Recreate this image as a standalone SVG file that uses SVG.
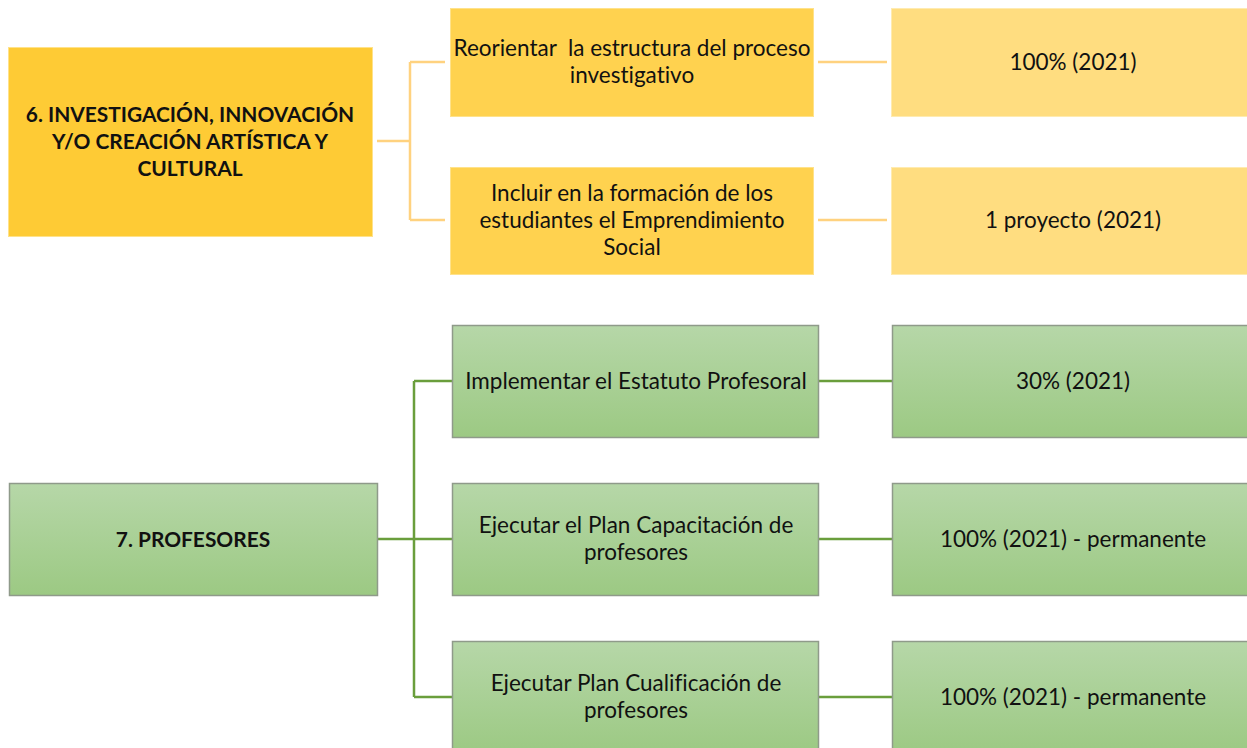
<svg xmlns="http://www.w3.org/2000/svg" width="1247" height="748" viewBox="0 0 1247 748">
<defs>
<linearGradient id="gg" x1="0" y1="0" x2="0" y2="1">
<stop offset="0" stop-color="#B6D7A8"/>
<stop offset="1" stop-color="#9CC983"/>
</linearGradient>
<style>
.t{font-family:Lato,"Liberation Sans",Arial,sans-serif;font-size:22.5px;fill:#111;text-anchor:middle;font-variant-ligatures:none}
.b{font-weight:bold;font-size:20.9px}
.y1{fill:#FECB35;stroke:#FFE28A;stroke-width:1}
.y2{fill:#FFD24F;stroke:#FFE28A;stroke-width:1}
.y3{fill:#FFDD80;stroke:#FFEBB0;stroke-width:1}
.g{fill:url(#gg);stroke:#8F9A8A;stroke-width:1.5}
.cy{stroke:#FFD27F;stroke-width:2.5;fill:none}
.cg{stroke:#6A9E3C;stroke-width:2.5;fill:none}
</style>
</defs>
<rect width="1247" height="748" fill="#fff"/>
<g id="connectors">
<path class="cy" d="M377 141H410M410 62V220M410 62H445M410 220H445M818 62H887M818 220H887"/>
<path class="cg" d="M378 539H452M414 381V697M414 381H452M414 697H452M819 381H892M819 539H892M819 697H892"/>
</g>
<g id="n6"><rect class="y1" x="8.5" y="47.5" width="364" height="189"/>
<text class="t b" x="190" y="122">6. INVESTIGACIÓN, INNOVACIÓN</text>
<text class="t b" x="190" y="149">Y/O CREACIÓN ARTÍSTICA Y</text>
<text class="t b" x="190" y="176">CULTURAL</text></g>
<g id="n6a"><rect class="y2" x="450.5" y="8.5" width="363" height="108"/>
<text class="t" x="632" y="56" xml:space="preserve">Reorientar  la estructura del proceso</text>
<text class="t" x="632" y="83">investigativo</text></g>
<g id="n6b"><rect class="y2" x="450.5" y="167.5" width="363" height="107"/>
<text class="t" x="632" y="201">Incluir en la formación de los</text>
<text class="t" x="632" y="228">estudiantes el Emprendimiento</text>
<text class="t" x="632" y="255">Social</text></g>
<g id="n6a1"><rect class="y3" x="891.5" y="8.5" width="360" height="108"/>
<text class="t" x="1073" y="70">100% (2021)</text></g>
<g id="n6b1"><rect class="y3" x="891.5" y="167.5" width="360" height="107"/>
<text class="t" x="1073" y="228">1 proyecto (2021)</text></g>
<g id="n7"><rect class="g" x="9.5" y="483.5" width="368" height="112"/>
<text class="t b" x="193" y="547">7. PROFESORES</text></g>
<g id="n7a"><rect class="g" x="452.5" y="325.5" width="366" height="112"/>
<text class="t" x="636" y="389">Implementar el Estatuto Profesoral</text></g>
<g id="n7b"><rect class="g" x="452.5" y="483.5" width="366" height="112"/>
<text class="t" x="636" y="533">Ejecutar el Plan Capacitación de</text>
<text class="t" x="636" y="560">profesores</text></g>
<g id="n7c"><rect class="g" x="452.5" y="641.5" width="366" height="112"/>
<text class="t" x="636" y="691">Ejecutar Plan Cualificación de</text>
<text class="t" x="636" y="718">profesores</text></g>
<g id="n7a1"><rect class="g" x="892.5" y="325.5" width="360" height="112"/>
<text class="t" x="1073" y="389">30% (2021)</text></g>
<g id="n7b1"><rect class="g" x="892.5" y="483.5" width="360" height="112"/>
<text class="t" x="1073" y="547">100% (2021) - permanente</text></g>
<g id="n7c1"><rect class="g" x="892.5" y="641.5" width="360" height="112"/>
<text class="t" x="1073" y="705">100% (2021) - permanente</text></g>
</svg>
